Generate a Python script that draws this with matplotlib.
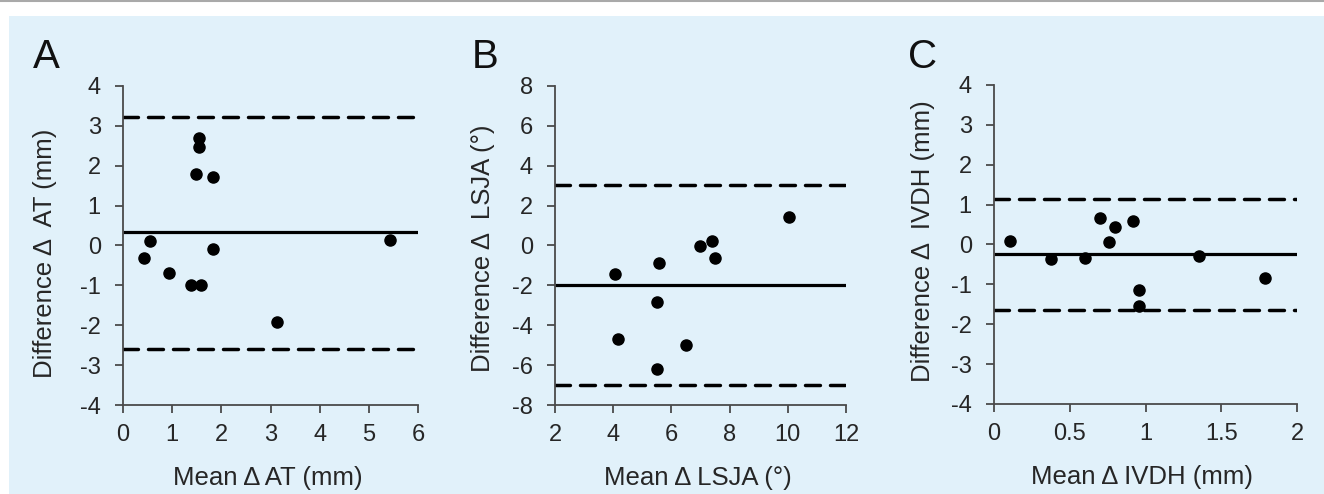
import numpy as np
import matplotlib
matplotlib.use("Agg")
from matplotlib import pyplot as plt
from matplotlib.patches import Rectangle
from matplotlib.lines import Line2D

plt.rcParams['font.family'] = ['Liberation Sans', 'DejaVu Sans']

# Panel A: anterior translation
at_mean = [0.43, 0.54, 0.94, 1.38, 1.59, 1.49, 1.54, 1.54, 1.83, 1.83, 3.13, 5.44]
at_diff = [-0.31, 0.11, -0.69, -0.99, -0.99, 1.79, 2.69, 2.48, 1.71, -0.10, -1.91, 0.14]
at_lines = [0.34, 3.23, -2.60]   # bias, upper LoA, lower LoA

# Panel B: LSJA
lsja_mean = [4.05, 4.16, 5.56, 5.50, 5.50, 6.50, 6.99, 7.39, 7.50, 10.05]
lsja_diff = [-1.45, -4.70, -0.88, -2.82, -6.18, -4.98, -0.03, 0.22, -0.63, 1.45]
lsja_lines = [-1.97, 3.03, -7.00]

# Panel C: IVDH
ivdh_mean = [0.106, 0.375, 0.60, 0.70, 0.76, 0.80, 0.92, 0.96, 0.96, 1.35, 1.79]
ivdh_diff = [0.09, -0.37, -0.35, 0.67, 0.075, 0.43, 0.59, -1.13, -1.53, -0.30, -0.85]
ivdh_lines = [-0.24, 1.15, -1.65]

panels = [
    dict(letter='A', x=at_mean, y=at_diff, lines=at_lines,
         xlim=(0, 6), xticks=[0, 1, 2, 3, 4, 5, 6], xticklabels=['0', '1', '2', '3', '4', '5', '6'],
         ylim=(-4, 4), yticks=[-4, -3, -2, -1, 0, 1, 2, 3, 4],
         xlabel='Mean \u0394 AT (mm)', ylabel='Difference \u0394  AT (mm)',
         rect=[123, 86, 418, 405], letter_x=33, ylab_x=-0.264, ylab_y=0.475),
    dict(letter='B', x=lsja_mean, y=lsja_diff, lines=lsja_lines,
         xlim=(2, 12), xticks=[2, 4, 6, 8, 10, 12], xticklabels=['2', '4', '6', '8', '10', '12'],
         ylim=(-8, 8), yticks=[-8, -6, -4, -2, 0, 2, 4, 6, 8],
         xlabel='Mean \u0394 LSJA (\u00b0)', ylabel='Difference \u0394  LSJA (\u00b0)',
         rect=[555, 86, 846, 405], letter_x=472, ylab_x=-0.247, ylab_y=0.49),
    dict(letter='C', x=ivdh_mean, y=ivdh_diff, lines=ivdh_lines,
         xlim=(0, 2), xticks=[0, 0.5, 1, 1.5, 2], xticklabels=['0', '0.5', '1', '1.5', '2'],
         ylim=(-4, 4), yticks=[-4, -3, -2, -1, 0, 1, 2, 3, 4],
         xlabel='Mean \u0394 IVDH (mm)', ylabel='Difference \u0394  IVDH (mm)',
         rect=[994, 85, 1297, 404], letter_x=908, ylab_x=-0.234, ylab_y=0.51),
]

W, H = 1324, 494
fig = plt.figure(figsize=(W / 100, H / 100), dpi=100, facecolor='white')

# light blue panel background and thin grey rule at top
fig.patches.append(Rectangle((9 / W, 0), 1 - 9 / W, 1 - 16 / H, transform=fig.transFigure,
                             facecolor='#e1f1fa', edgecolor='none', zorder=-10))
fig.lines.append(Line2D([0, 1], [1 - 1 / H, 1 - 1 / H], transform=fig.transFigure,
                        color='#a9a9a9', lw=1.5, zorder=-10))

spine_col = '#4a4a4a'
text_col = '#262626'

for p in panels:
    l, t, r, b = p['rect']
    ax = fig.add_axes([l / W, 1 - b / H, (r - l) / W, (b - t) / H])
    ax.set_facecolor('none')

    bias, upper, lower = p['lines']
    ax.plot(p['xlim'], [bias, bias], color='black', lw=2.3, solid_capstyle='butt', zorder=2)
    for lim in (upper, lower):
        ax.plot(p['xlim'], [lim, lim], color='black', lw=2.5, dashes=(4.3, 2.9),
                dash_capstyle='round', zorder=2)
    ax.plot(p['x'], p['y'], 'o', color='black', ms=8, zorder=3)

    ax.set_xlim(p['xlim'])
    ax.set_ylim(p['ylim'])
    ax.set_xticks(p['xticks'])
    ax.set_xticklabels(p['xticklabels'])
    ax.set_yticks(p['yticks'])
    ax.set_yticklabels([str(v) for v in p['yticks']])

    for side in ('top', 'right'):
        ax.spines[side].set_visible(False)
    for side in ('left', 'bottom'):
        ax.spines[side].set_color(spine_col)
        ax.spines[side].set_linewidth(1.3)
    ax.tick_params(direction='out', length=6, width=1.3, color=spine_col,
                   labelsize=17, labelcolor=text_col)
    ax.tick_params(axis='y', pad=10)
    ax.tick_params(axis='x', pad=8)

    ax.set_xlabel(p['xlabel'], fontsize=18.5, color=text_col, va='center')
    ax.xaxis.set_label_coords(0.49, -0.229)
    ax.set_ylabel(p['ylabel'], fontsize=18.5, color=text_col, va='center')
    ax.yaxis.set_label_coords(p['ylab_x'], p['ylab_y'])

    fig.text(p['letter_x'] / W, 1 - 68 / H, p['letter'], fontsize=29,
             color='#111111', va='baseline', ha='left')

fig.savefig('out.png', dpi=100, facecolor='white')
